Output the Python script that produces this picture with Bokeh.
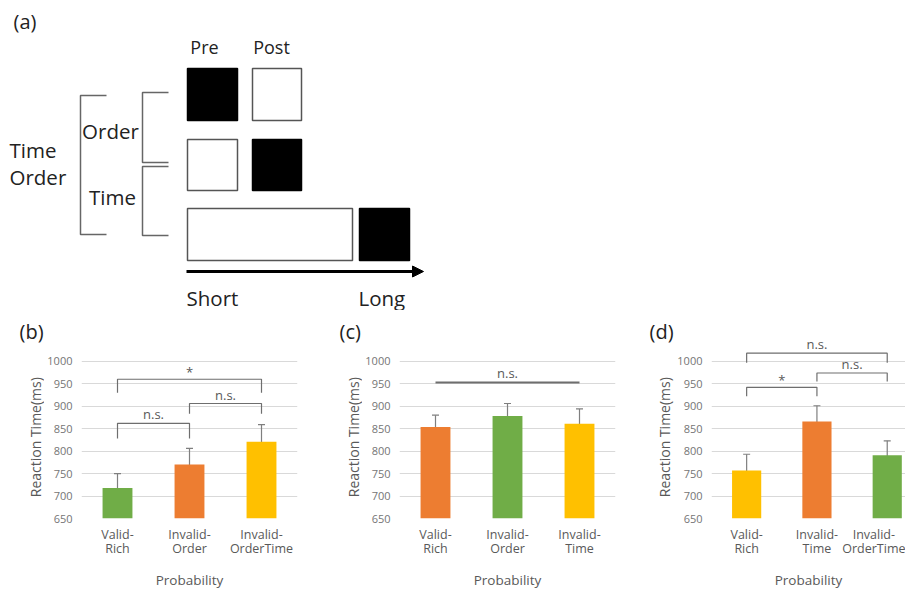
import numpy as np
from bokeh.plotting import figure
from bokeh.layouts import column, row
from bokeh.models import (Range1d, FixedTicker, Whisker, ColumnDataSource,
                          TeeHead, Arrow, NormalHead)
from bokeh.core.properties import value
from bokeh.embed import file_html
from bokeh.resources import INLINE

FONT = "Open Sans"
GREEN = "#70AD47"
ORANGE = "#ED7D31"
YELLOW = "#FFC000"
TXT = "#595959"
DARK = "#222222"

# ---------------- data ----------------
y_ticks = [650, 700, 750, 800, 850, 900, 950, 1000]

b_categories = ["Valid-\nRich", "Invalid-\nOrder", "Invalid-\nOrderTime"]
b_means = [718, 770, 821]
b_upper = [750, 806, 859]
b_lower = [687, 729, 782]
b_colors = [GREEN, ORANGE, YELLOW]
# (from, to, bracket top, leg bottom, label)
b_brackets = [(0, 2, 960, 930, "*"), (0, 1, 862, 828, "n.s."), (1, 2, 906, 883, "n.s.")]

c_categories = ["Valid-\nRich", "Invalid-\nOrder", "Invalid-\nTime"]
c_means = [854, 878, 861]
c_upper = [880, 906, 894]
c_lower = [824, 846, 828]
c_colors = [ORANGE, GREEN, YELLOW]
c_brackets = [(0, 2, 953, 953, "n.s.")]

d_categories = ["Valid-\nRich", "Invalid-\nTime", "Invalid-\nOrderTime"]
d_means = [757, 866, 791]
d_upper = [793, 901, 823]
d_lower = [717, 829, 758]
d_colors = [YELLOW, ORANGE, GREEN]
d_brackets = [(0, 1, 942, 922, "*"), (1, 2, 974, 955, "n.s."), (0, 2, 1018, 997, "n.s.")]

ROW_H = 281
Y_START, Y_END = 650, 1086.4

# ---------------- panel (a): schematic ----------------
pa = figure(width=905, height=310, x_range=Range1d(0, 905), y_range=Range1d(310, 0),
            x_axis_type=None, y_axis_type=None, output_backend="svg", toolbar_location=None,
            min_border=0)
pa.grid.visible = False
pa.outline_line_color = None

box_left = [187, 252, 187, 252, 187, 359]
box_right = [237, 301, 237, 301, 352, 409]
box_top = [68, 68, 139, 139, 208, 208]
box_bottom = [120, 120, 190, 190, 260, 260]
box_fill = ["black", "white", "white", "black", "white", "black"]
box_line = ["black", "#555555", "#555555", "black", "#555555", "black"]
pa.quad(left=box_left, right=box_right, top=box_top, bottom=box_bottom,
        fill_color=box_fill, line_color=box_line, line_width=1.5)

brk_xs = [[106, 80, 80, 106], [168, 142, 142, 168], [168, 142, 142, 168]]
brk_ys = [[95, 95, 234, 234], [92, 92, 162, 162], [166, 166, 235, 235]]
pa.multi_line(xs=brk_xs, ys=brk_ys, line_color="#666666", line_width=1.5)

pa.add_layout(Arrow(end=NormalHead(size=11, fill_color="black", line_color="black"),
                    x_start=186, y_start=271, x_end=423, y_end=271,
                    line_width=3, line_color="black"))

pa.text(x=[13], y=[21], text=["(a)"], text_font=value(FONT), text_font_size="20px",
        text_align="left", text_baseline="middle", text_color=DARK)
pa.text(x=[204, 271], y=[46, 46], text=["Pre", "Post"], text_font=value(FONT),
        text_font_size="18px", text_align="center", text_baseline="middle", text_color=DARK)
pa.text(x=[110, 112], y=[130, 196], text=["Order", "Time"], text_font=value(FONT),
        text_font_size="20.5px", text_align="center", text_baseline="middle", text_color=DARK)
pa.text(x=[9, 9], y=[149, 176], text=["Time", "Order"], text_font=value(FONT),
        text_font_size="20.5px", text_align="left", text_baseline="middle", text_color=DARK)
pa.text(x=[186, 358], y=[297, 297], text=["Short", "Long"], text_font=value(FONT),
        text_font_size="20.5px", text_align="left", text_baseline="middle", text_color=DARK)


def bar_borders():
    return dict(min_border_top=12, min_border_bottom=72)


# ---------------- left strips: panel tag + y title (share the bar charts' y scale) ----------------
def strip(tag, width, tag_x, title_x):
    s = figure(width=width, height=ROW_H, x_range=Range1d(0, width),
               y_range=Range1d(Y_START, Y_END), x_axis_type=None, y_axis_type=None,
               output_backend="svg", toolbar_location=None, min_border_left=0,
               min_border_right=0, **bar_borders())
    s.grid.visible = False
    s.outline_line_color = None
    s.text(x=[tag_x], y=[1066], text=[tag], text_font=value(FONT),
           text_font_size="20px", text_align="left", text_baseline="middle", text_color=DARK)
    s.text(x=[title_x], y=[831], text=["Reaction Time(ms)"], angle=90,
           angle_units="deg", text_font=value(FONT), text_font_size="14px",
           text_align="center", text_baseline="middle", text_color=TXT)
    return s


# ---------------- bar panels ----------------
def bar_panel(cats, means, upper, lower, colors, brackets, width, border_right, x_end):
    p = figure(width=width, height=ROW_H, x_range=Range1d(-0.5, x_end),
               y_range=Range1d(Y_START, Y_END), output_backend="svg", toolbar_location=None,
               min_border_left=36, min_border_right=border_right, **bar_borders())
    p.outline_line_color = None
    x = list(range(len(cats)))
    src = ColumnDataSource(dict(x=x, top=means, upper=upper, lower=lower, color=colors))
    p.vbar(x="x", top="top", bottom=650, width=0.415, fill_color="color",
           line_color=None, source=src)
    p.add_layout(Whisker(base="x", upper="upper", lower="lower", source=src,
                         line_color="#7F7F7F", line_width=1.2,
                         upper_head=TeeHead(size=7, line_color="#7F7F7F", line_width=1.2),
                         lower_head=TeeHead(size=7, line_color="#7F7F7F", line_width=1.2)))

    xs, ys, tx, ty, tt, toff = [], [], [], [], [], []
    for i, j, top, leg, lab in brackets:
        xs.append([i, i, j, j])
        ys.append([leg, top, top, leg])
        tx.append((i + j) / 2)
        ty.append(top)
        tt.append(lab)
        toff.append(2 if lab == "*" else 0)
    lw = 2 if len(brackets) == 1 else 1.2
    p.multi_line(xs=xs, ys=ys, line_color="#6E6E6E", line_width=lw)
    p.text(x=tx, y=ty, text=tt, y_offset=toff, text_align="center",
           text_baseline="bottom", text_font=value(FONT), text_font_size="13px",
           text_color=TXT)

    p.xaxis.ticker = FixedTicker(ticks=x)
    p.xaxis.major_label_overrides = {i: c for i, c in enumerate(cats)}
    p.xaxis.axis_line_color = None
    p.xaxis.major_tick_line_color = None
    p.xaxis.minor_tick_line_color = None
    p.xaxis.major_tick_out = 0
    p.xaxis.major_label_standoff = 7
    p.xaxis.major_label_text_font = FONT
    p.xaxis.major_label_text_font_size = "12.5px"
    p.xaxis.major_label_text_line_height = 0.85
    p.xaxis.major_label_text_color = TXT
    p.xaxis.axis_label = "Probability"
    p.xaxis.axis_label_standoff = 11
    p.xaxis.axis_label_text_font = FONT
    p.xaxis.axis_label_text_font_size = "13.5px"
    p.xaxis.axis_label_text_font_style = "normal"
    p.xaxis.axis_label_text_color = TXT
    p.xgrid.visible = False

    p.yaxis.ticker = FixedTicker(ticks=y_ticks)
    p.yaxis.axis_line_color = None
    p.yaxis.major_tick_line_color = None
    p.yaxis.minor_tick_line_color = None
    p.yaxis.major_tick_out = 0
    p.yaxis.major_label_standoff = 9
    p.yaxis.major_label_text_font = FONT
    p.yaxis.major_label_text_font_size = "11px"
    p.yaxis.major_label_text_color = "#757575"
    p.ygrid.ticker = FixedTicker(ticks=y_ticks)
    p.ygrid.grid_line_color = "#D9D9D9"
    return p


sb = strip("(b)", 44, 19, 35)
pb = bar_panel(b_categories, b_means, b_upper, b_lower, b_colors, b_brackets, 266, 13, 2.5)
sc = strip("(c)", 52, 29, 43)
pc = bar_panel(c_categories, c_means, c_upper, c_lower, c_colors, c_brackets, 258, 5, 2.5)
sd = strip("(d)", 54, 29, 44)
pd = bar_panel(d_categories, d_means, d_upper, d_lower, d_colors, d_brackets, 231, 0, 2.26)

layout = column(pa, row(sb, pb, sc, pc, sd, pd, spacing=0), spacing=0)
open("out.html", "w").write(file_html(layout, INLINE))
